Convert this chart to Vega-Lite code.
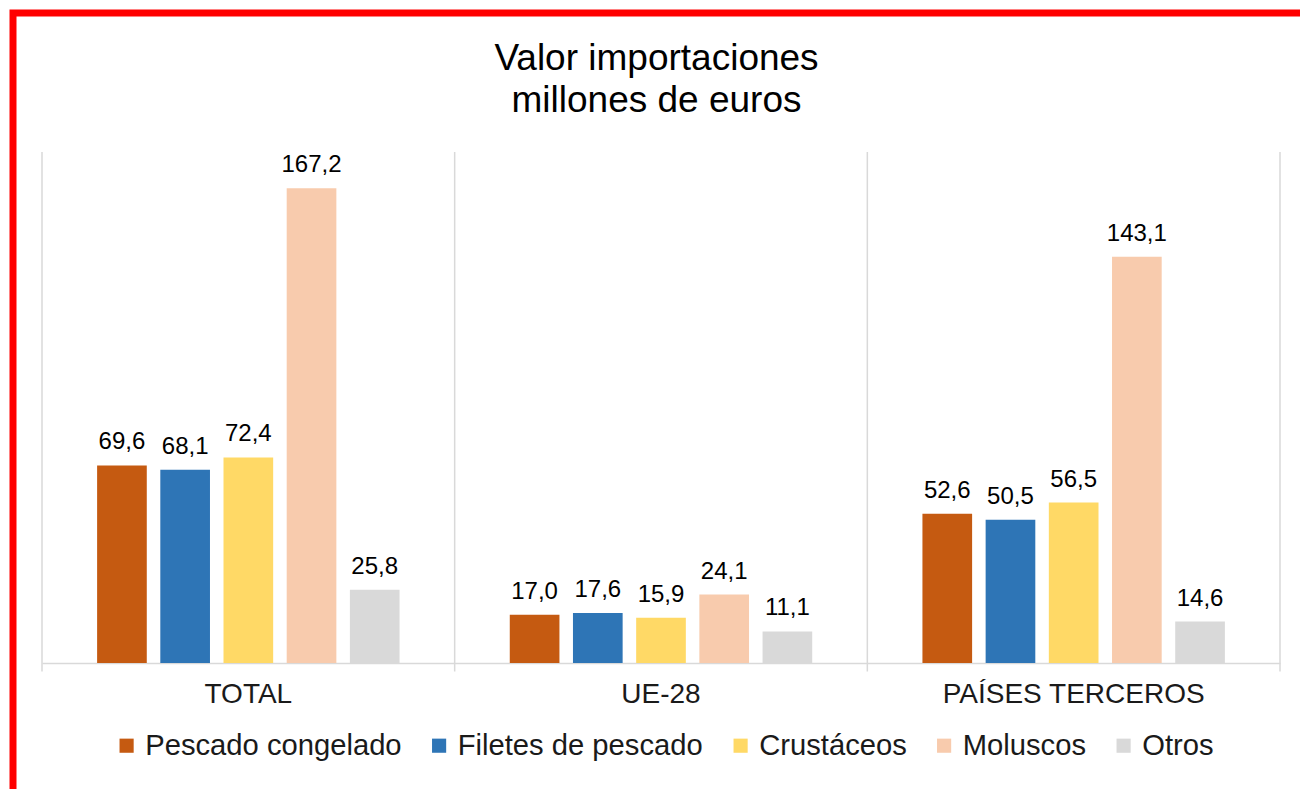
{
  "$schema": "https://vega.github.io/schema/vega-lite/v6.json",
  "autosize": "none",
  "width": 1287,
  "height": 776,
  "padding": {"top": 13, "left": 13, "right": 0, "bottom": 0},
  "background": "#ffffff",
  "title": {
    "text": ["Valor importaciones", "millones de euros"],
    "anchor": "middle",
    "frame": "group",
    "fontSize": 37,
    "fontWeight": "normal",
    "font": "Liberation Sans",
    "color": "#000000",
    "lineHeight": 42,
    "baseline": "alphabetic",
    "offset": 0,
    "dy": 136
  },
  "datasets": {
    "imports": [
      {"grupo": "TOTAL", "tipo": "Pescado congelado", "valor": 69.6},
      {"grupo": "TOTAL", "tipo": "Filetes de pescado", "valor": 68.1},
      {"grupo": "TOTAL", "tipo": "Crustáceos", "valor": 72.4},
      {"grupo": "TOTAL", "tipo": "Moluscos", "valor": 167.2},
      {"grupo": "TOTAL", "tipo": "Otros", "valor": 25.8},
      {"grupo": "UE-28", "tipo": "Pescado congelado", "valor": 17.0},
      {"grupo": "UE-28", "tipo": "Filetes de pescado", "valor": 17.6},
      {"grupo": "UE-28", "tipo": "Crustáceos", "valor": 15.9},
      {"grupo": "UE-28", "tipo": "Moluscos", "valor": 24.1},
      {"grupo": "UE-28", "tipo": "Otros", "valor": 11.1},
      {"grupo": "PAÍSES TERCEROS", "tipo": "Pescado congelado", "valor": 52.6},
      {"grupo": "PAÍSES TERCEROS", "tipo": "Filetes de pescado", "valor": 50.5},
      {"grupo": "PAÍSES TERCEROS", "tipo": "Crustáceos", "valor": 56.5},
      {"grupo": "PAÍSES TERCEROS", "tipo": "Moluscos", "valor": 143.1},
      {"grupo": "PAÍSES TERCEROS", "tipo": "Otros", "valor": 14.6}
    ],
    "bounds": [{"b": 0}, {"b": 1}, {"b": 2}, {"b": 3}]
  },
  "layer": [
    {
      "data": {"name": "bounds"},
      "mark": {"type": "rule", "color": "#d9d9d9", "strokeWidth": 1.5},
      "encoding": {
        "x": {"field": "b", "type": "quantitative", "scale": {"domain": [0, 3], "range": [29, 1267], "nice": false, "zero": false}, "axis": null},
        "y": {"datum": -3, "type": "quantitative"},
        "y2": {"datum": 180}
      }
    },
    {
      "data": {"name": "imports"},
      "layer": [
        {
          "mark": {"type": "bar"},
          "encoding": {
            "x": {"field": "grupo", "type": "nominal", "sort": ["TOTAL", "UE-28", "PAÍSES TERCEROS"],
              "scale": {"range": [29, 1267], "paddingInner": 0, "paddingOuter": 0},
              "axis": {"title": null, "orient": "bottom", "offset": -126, "domainColor": "#d9d9d9", "domainWidth": 1.5, "ticks": false, "labelAngle": 0, "labelFontSize": 28, "labelFont": "Liberation Sans", "labelColor": "#1a1a1a", "labelPadding": 17, "labelLimit": 500}},
            "xOffset": {"field": "tipo", "type": "nominal", "sort": ["Pescado congelado", "Filetes de pescado", "Crustáceos", "Moluscos", "Otros"],
              "scale": {"paddingInner": 0.214, "paddingOuter": 0.872}},
            "y": {"field": "valor", "type": "quantitative", "scale": {"domain": [0, 180], "range": [650, 139], "nice": false}, "axis": null},
            "color": {"field": "tipo", "type": "nominal", "sort": ["Pescado congelado", "Filetes de pescado", "Crustáceos", "Moluscos", "Otros"],
              "scale": {"domain": ["Pescado congelado", "Filetes de pescado", "Crustáceos", "Moluscos", "Otros"], "range": ["#c55a11", "#2e75b6", "#ffd966", "#f8cbad", "#d9d9d9"]},
              "legend": {"title": null, "orient": "none", "direction": "horizontal", "legendX": 99, "legendY": 718, "symbolType": "square", "symbolSize": 200, "symbolStrokeWidth": 0, "labelFontSize": 29.2, "labelFont": "Liberation Sans", "labelColor": "#1a1a1a", "labelOffset": 4, "columnPadding": 22.5, "labelLimit": 500}}
          }
        },
        {
          "mark": {"type": "text", "baseline": "bottom", "dy": -11, "fontSize": 24, "font": "Liberation Sans", "color": "#000000"},
          "encoding": {
            "x": {"field": "grupo", "type": "nominal", "sort": ["TOTAL", "UE-28", "PAÍSES TERCEROS"]},
            "xOffset": {"field": "tipo", "type": "nominal", "sort": ["Pescado congelado", "Filetes de pescado", "Crustáceos", "Moluscos", "Otros"]},
            "y": {"field": "valor", "type": "quantitative"},
            "text": {"field": "valor", "type": "quantitative", "format": ".1f"}
          }
        }
      ]
    }
  ],
  "resolve": {"scale": {"x": "independent"}},
  "config": {
    "locale": {"number": {"decimal": ",", "thousands": ".", "grouping": [3], "currency": ["", " €"]}},
    "view": {"stroke": "#ff0000", "strokeWidth": 7, "strokeDash": [1287, 2063, 776], "strokeCap": "square", "fill": "#ffffff"}
  }
}
